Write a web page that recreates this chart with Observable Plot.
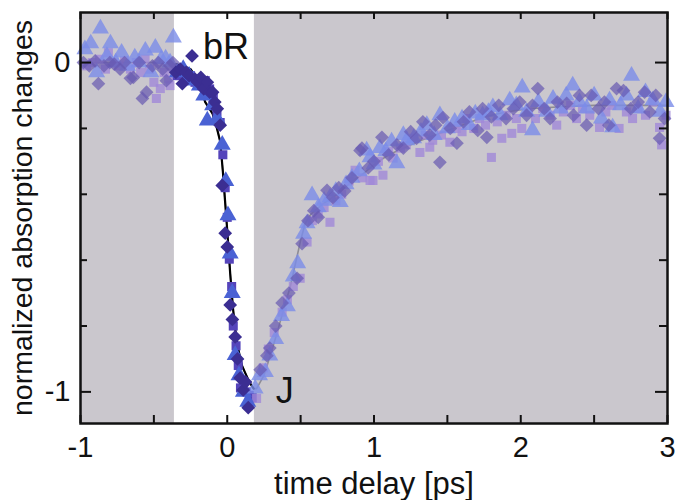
<!DOCTYPE html>
<html>
<head>
<meta charset="utf-8">
<script src="https://cdn.jsdelivr.net/npm/d3@7"></script>
<script src="https://cdn.jsdelivr.net/npm/@observablehq/plot@0.6"></script>
<style>
  html, body { margin: 0; padding: 0; background: #fff; }
</style>
</head>
<body>
<div id="chart"></div>
<script>
// ---- axis / tick labels ----
const xTickLabels = [-1, 0, 1, 2, 3];
const yTickLabels = [0, -1];
const xTicks = [-1, -0.5, 0, 0.5, 1, 1.5, 2, 2.5, 3];
const yTicksMajor = [0, -1];
const yTicksMinor = [-0.2, -0.4, -0.6, -0.8];
const xLabel = "time delay [ps]";
const yLabel = "normalized absorption changes";

// ---- shaded (gray) regions outside the white window ----
const shadeX1 = [-1, 0.185];
const shadeX2 = [-0.36, 3];
const windowStart = -0.36, windowEnd = 0.185;

// ---- annotations ----
const annoText = ["bR", "J"];
const annoX = [-0.165, 0.33];
const annoY = [0.012, -1.035];

// ---- series: triangles [x, y] ----
const triangles = [
  [-0.97,0.04],[-0.93,0.058],[-0.89,-0.03],[-0.864,0.103],[-0.82,0.02],[-0.796,0.058],[-0.76,0.0],[-0.72,0.03],
  [-0.68,-0.01],[-0.63,0.015],[-0.60,0.0],[-0.558,0.036],[-0.52,-0.03],[-0.49,0.045],[-0.45,0.01],[-0.42,0.012],
  [-0.39,0.0],[-0.367,0.076],
  [-0.34,-0.03],[-0.30,-0.02],[-0.26,-0.04],[-0.23,-0.055],[-0.19,-0.07],[-0.16,-0.10],[-0.136,-0.176],[-0.10,-0.13],
  [-0.07,-0.17],[-0.034,-0.25],[-0.01,-0.36],[0.005,-0.464],[0.02,-0.58],[0.034,-0.70],[0.054,-0.888],[0.08,-0.95],
  [0.11,-1.0],[0.14,-1.03],
  [0.19,-0.99],[0.22,-0.95],[0.26,-0.94],[0.29,-0.89],[0.33,-0.84],[0.37,-0.77],[0.41,-0.74],[0.45,-0.65],
  [0.48,-0.61],[0.52,-0.52],[0.544,-0.488],[0.578,-0.403],[0.62,-0.44],[0.66,-0.42],[0.70,-0.41],[0.74,-0.39],
  [0.77,-0.424],[0.81,-0.37],[0.85,-0.35],[0.90,-0.33],[0.95,-0.267],[0.973,-0.288],[1.0,-0.31],[1.04,-0.26],
  [1.08,-0.27],[1.12,-0.24],[1.156,-0.306],[1.20,-0.22],[1.224,-0.236],[1.27,-0.23],[1.32,-0.21],[1.36,-0.19],
  [1.41,-0.22],[1.449,-0.16],[1.50,-0.20],[1.55,-0.18],[1.60,-0.17],[1.65,-0.19],[1.69,-0.155],[1.74,-0.16],
  [1.78,-0.15],[1.81,-0.136],[1.86,-0.16],[1.925,-0.115],[1.97,-0.13],[2.01,-0.076],[2.04,-0.15],[2.08,-0.206],
  [2.12,-0.12],[2.177,-0.15],[2.22,-0.11],[2.27,-0.14],[2.31,-0.10],[2.354,-0.07],[2.40,-0.12],[2.45,-0.14],
  [2.50,-0.10],[2.55,-0.17],[2.605,-0.115],[2.626,-0.197],[2.68,-0.13],[2.72,-0.10],[2.755,-0.04],[2.80,-0.14],
  [2.85,-0.09],[2.90,-0.115],[2.95,-0.15],[2.99,-0.12]
];

// ---- series: diamonds [x, y] ----
const diamonds = [
  [-0.98,0.0],[-0.94,-0.01],[-0.90,0.005],[-0.878,-0.064],[-0.84,-0.01],[-0.80,0.0],[-0.77,-0.005],[-0.73,-0.02],
  [-0.70,0.0],[-0.66,-0.048],[-0.64,-0.045],[-0.60,0.0],[-0.578,-0.109],[-0.55,-0.09],[-0.51,-0.01],[-0.47,0.0],
  [-0.44,-0.02],[-0.415,-0.055],[-0.39,-0.01],[-0.37,0.0],
  [-0.35,-0.03],[-0.32,-0.02],[-0.306,-0.064],[-0.28,-0.03],[-0.26,-0.04],[-0.24,0.02],[-0.22,-0.05],[-0.20,-0.06],
  [-0.18,-0.045],[-0.16,-0.08],[-0.136,-0.06],[-0.12,-0.09],[-0.10,-0.09],[-0.085,-0.12],[-0.068,-0.14],[-0.048,-0.19],
  [-0.034,-0.373],[-0.014,-0.518],[0.0,-0.56],[0.02,-0.736],[0.035,-0.78],[0.054,-0.833],[0.07,-0.90],[0.088,-0.958],
  [0.109,-0.994],[0.125,-0.97],[0.143,-1.048],
  [0.224,-0.933],[0.27,-0.89],[0.29,-0.867],[0.33,-0.80],[0.374,-0.73],[0.42,-0.70],[0.476,-0.655],[0.51,-0.55],
  [0.55,-0.48],[0.59,-0.45],[0.62,-0.47],[0.68,-0.388],[0.72,-0.41],[0.76,-0.38],[0.80,-0.39],[0.85,-0.35],
  [0.905,-0.267],[0.918,-0.26],[0.96,-0.32],[1.0,-0.30],[1.054,-0.227],[1.10,-0.28],[1.156,-0.25],[1.20,-0.26],
  [1.25,-0.21],[1.29,-0.23],[1.333,-0.18],[1.38,-0.22],[1.42,-0.19],[1.449,-0.303],[1.47,-0.167],[1.52,-0.20],
  [1.565,-0.245],[1.61,-0.18],[1.65,-0.15],[1.707,-0.206],[1.74,-0.14],[1.769,-0.227],[1.80,-0.165],[1.85,-0.13],
  [1.90,-0.17],[1.95,-0.14],[1.993,-0.12],[2.04,-0.16],[2.08,-0.13],[2.116,-0.079],[2.16,-0.14],[2.20,-0.17],
  [2.25,-0.12],[2.313,-0.124],[2.36,-0.16],[2.40,-0.10],[2.449,-0.19],[2.48,-0.10],[2.53,-0.14],[2.57,-0.12],
  [2.60,-0.19],[2.653,-0.079],[2.70,-0.085],[2.75,-0.14],[2.80,-0.12],[2.844,-0.09],[2.88,-0.15],[2.92,-0.10],
  [2.946,-0.23],[2.98,-0.17]
];

// ---- series: squares [x, y] ----
const squares = [
  [-0.96,-0.01],[-0.92,0.0],[-0.87,0.01],[-0.83,-0.02],[-0.81,0.03],[-0.77,0.0],[-0.74,-0.01],[-0.70,0.005],
  [-0.66,-0.02],[-0.62,0.0],[-0.59,-0.03],[-0.56,0.01],[-0.53,-0.02],[-0.50,-0.06],[-0.483,-0.109],[-0.456,-0.079],
  [-0.43,-0.03],[-0.40,-0.05],[-0.39,-0.07],[-0.37,-0.02],
  [-0.34,-0.04],[-0.31,-0.03],[-0.28,-0.05],[-0.25,-0.04],[-0.22,-0.06],[-0.19,-0.05],[-0.15,-0.055],[-0.12,-0.08],
  [-0.095,-0.106],[-0.07,-0.15],[-0.048,-0.182],[-0.03,-0.28],[-0.014,-0.38],[0.0,-0.47],[0.014,-0.597],[0.03,-0.68],
  [0.041,-0.80],[0.06,-0.86],[0.075,-0.92],[0.09,-0.988],[0.11,-0.97],[0.13,-1.0],[0.15,-1.01],[0.17,-1.018],
  [0.20,-1.02],[0.245,-0.927],[0.28,-0.87],[0.32,-0.82],[0.374,-0.758],[0.41,-0.72],[0.45,-0.68],[0.497,-0.655],
  [0.544,-0.545],[0.58,-0.48],[0.62,-0.46],[0.66,-0.44],[0.70,-0.485],[0.74,-0.42],[0.78,-0.40],[0.83,-0.36],
  [0.871,-0.327],[0.92,-0.35],[0.973,-0.358],[0.993,-0.358],[1.03,-0.30],[1.061,-0.342],[1.10,-0.27],[1.13,-0.29],
  [1.18,-0.26],[1.22,-0.25],[1.27,-0.23],[1.313,-0.273],[1.35,-0.22],[1.38,-0.257],[1.40,-0.236],[1.46,-0.22],
  [1.517,-0.242],[1.56,-0.20],[1.60,-0.21],[1.633,-0.17],[1.68,-0.20],[1.72,-0.17],[1.76,-0.19],[1.80,-0.288],
  [1.84,-0.18],[1.871,-0.23],[1.90,-0.16],[1.939,-0.215],[1.97,-0.17],[2.007,-0.20],[2.05,-0.15],[2.10,-0.17],
  [2.15,-0.14],[2.20,-0.16],[2.245,-0.19],[2.29,-0.15],[2.34,-0.13],[2.38,-0.17],[2.42,-0.14],[2.47,-0.16],
  [2.537,-0.197],[2.58,-0.15],[2.62,-0.13],[2.67,-0.20],[2.72,-0.15],[2.762,-0.17],[2.80,-0.14],[2.85,-0.16],
  [2.90,-0.12],[2.946,-0.197],[2.96,-0.25],[2.99,-0.16]
];

// ---- fit curve [x, y] ----
const fit = [
  [-1,0],[-0.5,0],[-0.35,-0.005],[-0.3,-0.01],[-0.25,-0.02],[-0.2,-0.055],[-0.18,-0.08],[-0.15,-0.12],
  [-0.1,-0.155],[-0.07,-0.2],[-0.048,-0.24],[-0.03,-0.33],[-0.015,-0.42],[0.0,-0.51],[0.02,-0.64],[0.04,-0.75],
  [0.06,-0.83],[0.08,-0.88],[0.1,-0.92],[0.12,-0.94],[0.15,-0.97],[0.18,-0.99],[0.2,-0.99],[0.25,-0.95],
  [0.3,-0.88],[0.34,-0.82],[0.39,-0.74],[0.43,-0.68],[0.47,-0.6],[0.5,-0.54],[0.53,-0.49],[0.57,-0.46],
  [0.65,-0.43],[0.75,-0.4],[0.85,-0.36],[0.92,-0.34],[1.0,-0.31],[1.1,-0.28],[1.2,-0.26],[1.3,-0.24],
  [1.45,-0.215],[1.6,-0.19],[1.75,-0.165],[1.9,-0.15],[2.05,-0.14],[2.25,-0.135],[2.5,-0.13],[2.8,-0.13],[3.0,-0.13]
];

// ---- layout ----
const W = 675, H = 500;
const mL = 80, mR = 8, mT = 12, mB = 77;
const innerW = W - mL - mR, innerH = H - mT - mB;

const inWindow = x => x >= windowStart && x <= windowEnd;
const toObj = p => ({x: p[0], y: p[1]});
const tri = triangles.map(toObj), dia = diamonds.map(toObj), sq = squares.map(toObj);
const fitAll = fit.map(toObj);
const fitWin = fitAll.filter(d => inWindow(d.x));
const shade = shadeX1.map((a, i) => ({x1: a, x2: shadeX2[i]}));
const anno = annoText.map((t, i) => ({t, x: annoX[i], y: annoY[i]}));

const fmt = d => String(d);

const chart = Plot.plot({
  width: W, height: H,
  marginLeft: mL, marginRight: mR, marginTop: mT, marginBottom: mB,
  x: {domain: [-1, 3]},
  y: {domain: [-1.096, 0.152]},
  style: {fontFamily: "'Liberation Sans', Arial, sans-serif", background: "#fff", color: "#111"},
  marks: [
    Plot.rect(shade, {x1: "x1", x2: "x2", fill: "#cac7cd"}),
    Plot.line(fitAll, {x: "x", y: "y", stroke: "#8e8c94", strokeWidth: 1.6}),
    Plot.line(fitWin, {x: "x", y: "y", stroke: "#000", strokeWidth: 2.2}),
    Plot.dot(sq, {x: "x", y: "y", symbol: "square", r: 5.1, stroke: null,
      fill: d => inWindow(d.x) ? "#5544bb" : "#a088d8",
      fillOpacity: d => inWindow(d.x) ? 1 : 0.8}),
    Plot.dot(tri, {x: "x", y: "y", symbol: "triangle", r: 6.3, stroke: null,
      fill: d => inWindow(d.x) ? "#4a62d4" : "#7a8ce8",
      fillOpacity: d => inWindow(d.x) ? 1 : 0.8}),
    Plot.dot(dia, {x: "x", y: "y", symbol: "diamond2", r: 6.2, stroke: null,
      fill: d => inWindow(d.x) ? "#3b2e92" : "#6658b0",
      fillOpacity: d => inWindow(d.x) ? 1 : 0.7}),
    Plot.text(anno, {x: "x", y: "y", text: "t", textAnchor: "start", lineAnchor: "bottom", fontSize: 36, fill: "#111"}),
    Plot.frame({stroke: "#111", strokeWidth: 2.5}),
    // inward ticks
    Plot.tickX(xTicks, {x: d => d, insetTop: innerH - 8, stroke: "#111", strokeWidth: 2}),
    Plot.tickX(xTicks, {x: d => d, insetBottom: innerH - 7, stroke: "#111", strokeWidth: 2}),
    Plot.tickY(yTicksMajor, {y: d => d, insetRight: innerW - 11, stroke: "#111", strokeWidth: 2}),
    Plot.tickY(yTicksMinor, {y: d => d, insetRight: innerW - 7, stroke: "#111", strokeWidth: 2}),
    Plot.tickY(yTicksMajor, {y: d => d, insetLeft: innerW - 12, stroke: "#111", strokeWidth: 2}),
    Plot.tickY(yTicksMinor, {y: d => d, insetLeft: innerW - 8, stroke: "#111", strokeWidth: 2}),
    // tick labels
    Plot.axisX({ticks: xTickLabels, tickSize: 0, tickPadding: 13, fontSize: 29, tickFormat: fmt, label: null}),
    Plot.axisY({ticks: yTickLabels, tickSize: 0, tickPadding: 10, fontSize: 29, tickFormat: fmt, label: null}),
    // axis titles
    Plot.text([xLabel], {frameAnchor: "bottom", dy: 61, textAnchor: "middle", lineAnchor: "middle", fontSize: 31, fill: "#111"}),
    Plot.text([yLabel], {frameAnchor: "left", dx: -58, rotate: -90, textAnchor: "middle", lineAnchor: "middle", fontSize: 28.5, fill: "#111"})
  ]
});
document.getElementById("chart").appendChild(chart);
</script>
</body>
</html>
